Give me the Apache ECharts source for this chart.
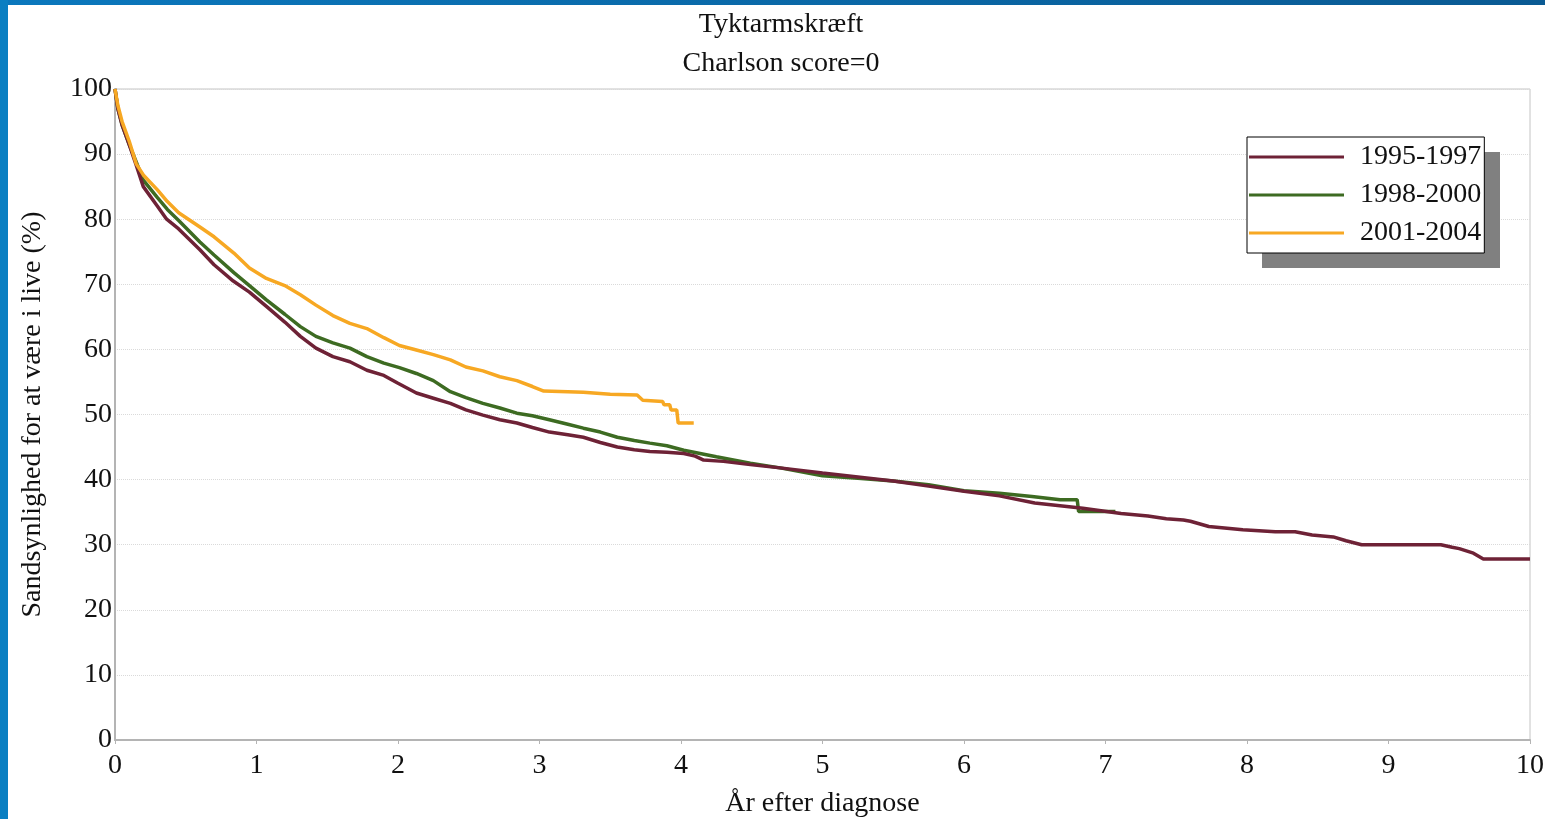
<!DOCTYPE html>
<html>
<head>
<meta charset="utf-8">
<title>Tyktarmskræft</title>
<script src="https://cdn.jsdelivr.net/npm/echarts@6/dist/echarts.min.js"></script>
<style>
  html, body { margin: 0; padding: 0; background: #fff; }
  #chart { width: 1545px; height: 819px; }
</style>
</head>
<body>
<div id="chart"></div>
<script>
// Years after diagnosis / survival (%)
const periods = ['1995-1997', '1998-2000', '2001-2004'];
const colors = ['#6e2236', '#3d6b22', '#f7a823'];

const years9597 = [0, 0.02, 0.05, 0.1, 0.15, 0.2, 0.3, 0.365, 0.45, 0.6, 0.7, 0.836, 0.95, 1.07, 1.2, 1.31, 1.42, 1.54, 1.66, 1.78, 1.9, 2.0, 2.13, 2.25, 2.37, 2.48, 2.6, 2.72, 2.84, 2.95, 3.07, 3.2, 3.31, 3.43, 3.55, 3.67, 3.78, 3.9, 4.02, 4.1, 4.16, 4.3, 4.49, 4.7, 5.0, 5.25, 5.5, 5.75, 6.0, 6.25, 6.5, 6.84, 7.11, 7.3, 7.43, 7.55, 7.6, 7.73, 7.97, 8.2, 8.34, 8.46, 8.61, 8.7, 8.81, 9.37, 9.45, 9.5, 9.6, 9.67, 10];
const surv9597 = [100, 97, 94.5, 91.5, 88.3, 85, 82, 80, 78.5, 75.3, 73, 70.5, 68.8, 66.6, 64.2, 62.0, 60.2, 58.9, 58.1, 56.8, 56.0, 54.8, 53.3, 52.5, 51.7, 50.7, 49.9, 49.2, 48.7, 48.0, 47.3, 46.9, 46.5, 45.7, 45.0, 44.6, 44.3, 44.2, 44.0, 43.6, 43.0, 42.8, 42.3, 41.8, 41.0, 40.4, 39.8, 39.0, 38.2, 37.5, 36.4, 35.6, 34.8, 34.4, 34.0, 33.8, 33.6, 32.8, 32.3, 32.0, 32.0, 31.5, 31.2, 30.6, 30.0, 30.0, 29.6, 29.4, 28.7, 27.8, 27.8];

const years9800 = [0, 0.02, 0.05, 0.1, 0.15, 0.2, 0.3, 0.37, 0.45, 0.6, 0.7, 0.84, 0.95, 1.07, 1.2, 1.31, 1.42, 1.54, 1.66, 1.78, 1.9, 2.01, 2.13, 2.25, 2.37, 2.48, 2.6, 2.72, 2.84, 2.95, 3.07, 3.2, 3.31, 3.43, 3.55, 3.67, 3.78, 3.9, 4.02, 4.25, 4.49, 4.7, 5.0, 5.25, 5.5, 5.75, 6.0, 6.25, 6.48, 6.68, 6.8, 6.81, 7.07];
const surv9800 = [100, 97, 94.5, 91.5, 88.8, 86, 83.3, 81.5, 79.8, 76.5, 74.5, 71.8, 69.8, 67.6, 65.4, 63.5, 62.0, 61.0, 60.2, 58.9, 57.9, 57.2, 56.3, 55.2, 53.5, 52.6, 51.7, 51.0, 50.2, 49.8, 49.2, 48.5, 47.9, 47.3, 46.5, 46.0, 45.6, 45.2, 44.5, 43.5, 42.5, 41.8, 40.6, 40.2, 39.8, 39.2, 38.3, 37.9, 37.4, 36.9, 36.9, 35.1, 35.1];

const years0104 = [0, 0.02, 0.05, 0.1, 0.15, 0.2, 0.3, 0.37, 0.45, 0.6, 0.7, 0.84, 0.95, 1.07, 1.2, 1.31, 1.42, 1.54, 1.66, 1.78, 1.9, 2.01, 2.13, 2.25, 2.37, 2.48, 2.6, 2.72, 2.84, 2.95, 3.03, 3.2, 3.31, 3.5, 3.69, 3.73, 3.87, 3.88, 3.92, 3.93, 3.97, 3.98, 4.09];
const surv0104 = [100, 97.5, 95, 92, 88.5, 86.8, 84.5, 82.7, 81, 78.8, 77.3, 74.8, 72.5, 70.9, 69.8, 68.4, 66.8, 65.2, 64.0, 63.2, 61.8, 60.6, 59.9, 59.2, 58.4, 57.3, 56.7, 55.8, 55.2, 54.3, 53.6, 53.5, 53.4, 53.1, 53.0, 52.2, 52.0, 51.5, 51.5, 50.7, 50.7, 48.7, 48.7];

const xTicks = [0, 1, 2, 3, 4, 5, 6, 7, 8, 9, 10];
const yTicks = [0, 10, 20, 30, 40, 50, 60, 70, 80, 90, 100];

function pairs(xs, ys) {
    return xs.map((x, i) => [x, ys[i]]);
}

const serif = '"Liberation Serif", "DejaVu Serif", serif';
const chart = echarts.init(document.getElementById('chart'));

const option = {
    backgroundColor: '#fff',
    animation: false,
    textStyle: { fontFamily: serif },
    graphic: [
        // blue slide frame on top and left
        {
            type: 'rect', left: 0, top: 0, silent: true,
            shape: { width: 1545, height: 5 },
            style: {
                fill: new echarts.graphic.LinearGradient(0, 0, 1, 0, [
                    { offset: 0, color: '#0b78bd' },
                    { offset: 1, color: '#0a5a93' }
                ])
            }
        },
        {
            type: 'rect', left: 0, top: 0, silent: true,
            shape: { width: 8, height: 819 },
            style: { fill: '#0a7fc2' }
        },
        // hard drop shadow behind the legend box
        {
            type: 'rect', left: 1262, top: 152, silent: true, z: 1,
            shape: { width: 238, height: 116 },
            style: { fill: '#808080' }
        }
    ],
    title: {
        text: 'Tyktarmskræft\nCharlson score=0',
        left: 776,
        top: 0,
        textAlign: 'center',
        textStyle: {
            fontFamily: serif,
            fontSize: 28,
            fontWeight: 'normal',
            color: '#111',
            lineHeight: 39
        }
    },
    legend: {
        data: periods,
        orient: 'vertical',
        left: 1247,
        top: 137,
        z: 10,
        icon: 'rect',
        padding: [6, 3, 6, 2],
        itemGap: 10,
        itemWidth: 95,
        itemHeight: 3,
        backgroundColor: '#fff',
        borderColor: '#000',
        borderWidth: 1,
        textStyle: {
            fontFamily: serif,
            fontSize: 28,
            color: '#111',
            lineHeight: 28,
            padding: [0, 0, 0, 11]
        }
    },
    grid: {
        left: 115,
        right: 15,
        top: 89,
        bottom: 79,
        outerBoundsMode: 'none',
        show: true,
        borderColor: '#c4c4c4',
        borderWidth: 1
    },
    xAxis: {
        type: 'value',
        min: 0,
        max: 10,
        interval: 1,
        name: 'År efter diagnose',
        nameLocation: 'middle',
        nameGap: 50,
        nameTextStyle: { fontFamily: serif, fontSize: 28, color: '#111' },
        axisLine: { lineStyle: { color: '#b4b4b4', width: 2 } },
        axisTick: { show: true, length: 4, lineStyle: { color: '#b4b4b4' } },
        axisLabel: {
            fontFamily: serif, fontSize: 28, color: '#111', margin: 12,
            formatter: v => xTicks.includes(v) ? String(v) : ''
        },
        splitLine: { show: false }
    },
    yAxis: {
        type: 'value',
        min: 0,
        max: 100,
        interval: 10,
        name: 'Sandsynlighed for at være i live (%)',
        nameLocation: 'middle',
        nameGap: 68,
        nameTextStyle: { fontFamily: serif, fontSize: 28, color: '#111' },
        axisLine: { show: true, lineStyle: { color: '#b4b4b4', width: 2 } },
        axisTick: { show: false },
        axisLabel: {
            fontFamily: serif, fontSize: 28, color: '#111', margin: 3,
            verticalAlign: 'middle', padding: [7, 0, 0, 0],
            formatter: v => yTicks.includes(v) ? String(v) : ''
        },
        splitLine: { show: true, lineStyle: { color: '#dadada', type: 'dotted', width: 1 } }
    },
    series: [
        {
            name: periods[0], type: 'line', symbol: 'none', z: 4,
            data: pairs(years9597, surv9597),
            itemStyle: { color: colors[0] },
            lineStyle: { color: colors[0], width: 3.5 }
        },
        {
            name: periods[1], type: 'line', symbol: 'none', z: 3,
            data: pairs(years9800, surv9800),
            itemStyle: { color: colors[1] },
            lineStyle: { color: colors[1], width: 3.5 }
        },
        {
            name: periods[2], type: 'line', symbol: 'none', z: 5,
            data: pairs(years0104, surv0104),
            itemStyle: { color: colors[2] },
            lineStyle: { color: colors[2], width: 3.5 }
        }
    ]
};

chart.setOption(option);
</script>
</body>
</html>
